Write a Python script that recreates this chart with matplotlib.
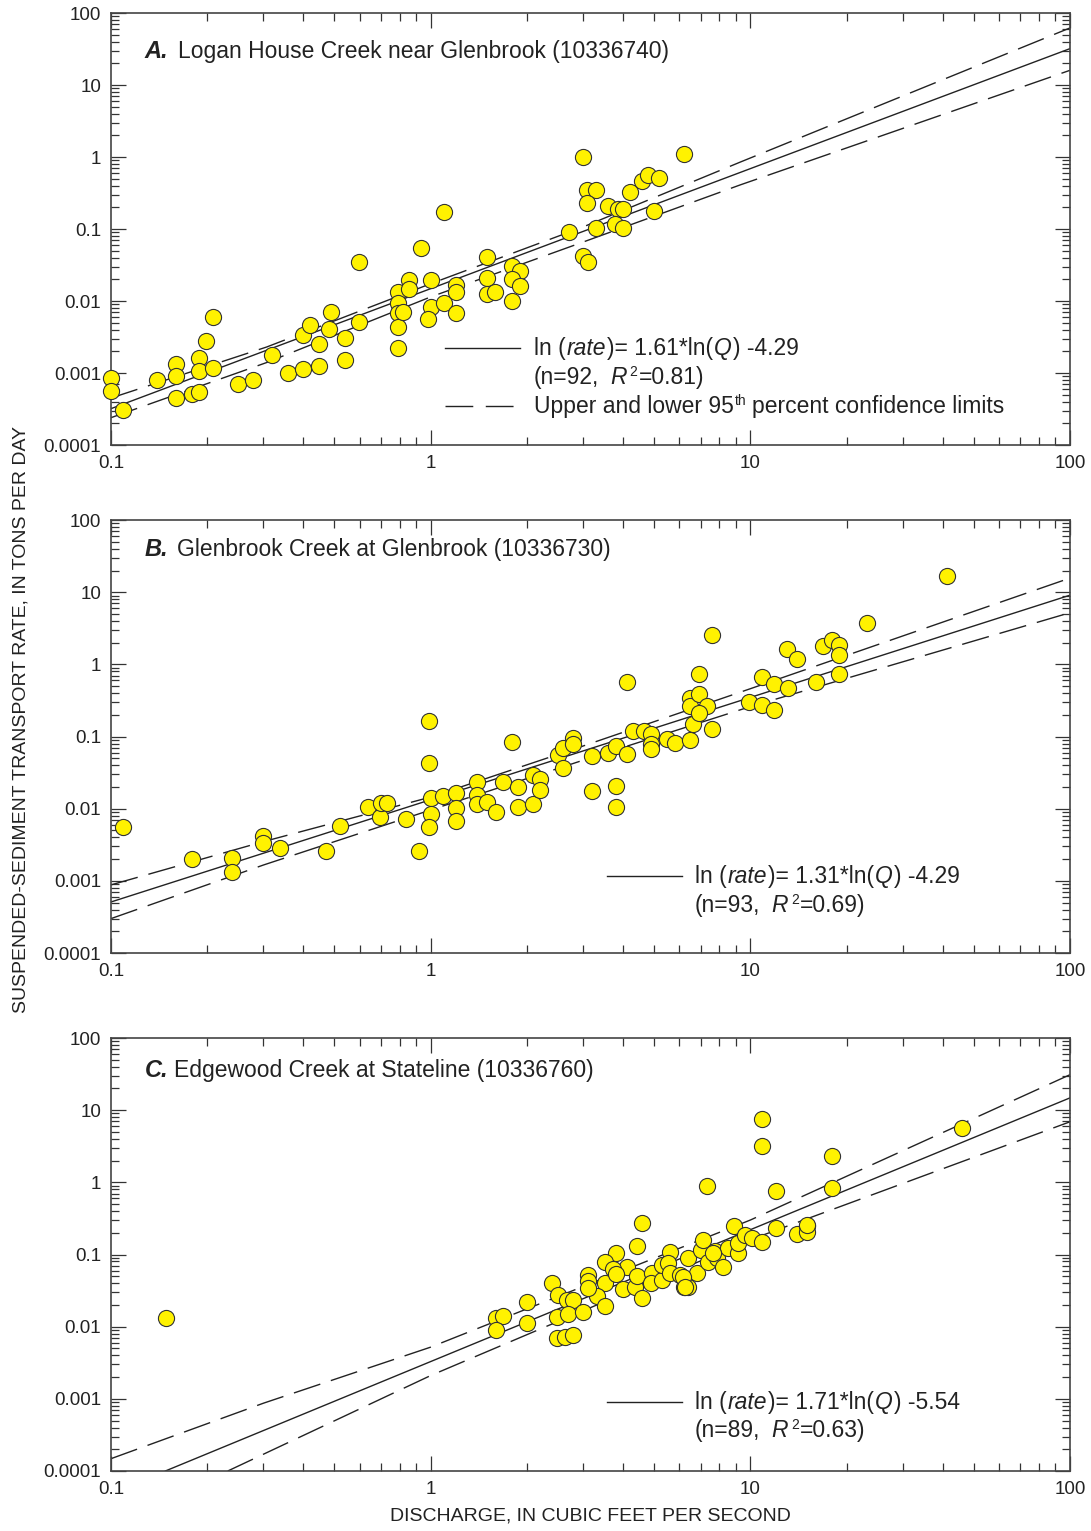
import numpy as np
import matplotlib.pyplot as plt
from matplotlib.ticker import LogLocator, NullFormatter, FixedLocator, FixedFormatter
from matplotlib.transforms import offset_copy

plt.rcParams['font.family'] = ['Liberation Sans', 'DejaVu Sans']

# ---- data ----
# A. Logan House Creek near Glenbrook
a_q = [0.1, 0.1, 0.109, 0.139, 0.16, 0.16, 0.16, 0.179, 0.188, 0.188, 0.188, 0.198, 0.208, 0.208,
       0.249, 0.278, 0.318, 0.357, 0.398, 0.398, 0.42, 0.447, 0.447, 0.48, 0.488, 0.54, 0.54,
       0.596, 0.596, 0.79, 0.79, 0.79, 0.79, 0.79, 0.82, 0.855, 0.855, 0.93, 1.0, 1.0, 0.98,
       1.1, 1.1, 1.2, 1.2, 1.2, 1.5, 1.5, 1.5, 1.59, 1.8, 1.9, 1.8, 1.9, 1.8,
       2.7, 3.0, 3.0, 3.1, 3.08, 3.3, 3.08, 3.3, 3.6, 3.85, 4.0, 3.77, 4.0, 4.2, 4.6, 4.8,
       5.2, 5.0, 6.2]
a_rate = [0.00085, 0.00056, 0.00031, 0.00079, 0.00133, 0.00091, 0.00045, 0.00051, 0.0016, 0.00107,
          0.00055, 0.0028, 0.006, 0.00118, 0.00071, 0.00079, 0.0018, 0.001, 0.00114, 0.0034,
          0.0047, 0.0025, 0.00125, 0.0041, 0.0071, 0.0031, 0.0015, 0.0051, 0.035, 0.0133,
          0.0093, 0.0068, 0.0043, 0.0022, 0.0071, 0.0196, 0.0147, 0.055, 0.0196, 0.0083, 0.0056,
          0.174, 0.0093, 0.0166, 0.0133, 0.0068, 0.041, 0.021, 0.0126, 0.0133, 0.031, 0.026,
          0.02, 0.016, 0.01, 0.091, 1.0, 0.042, 0.035, 0.35, 0.35, 0.23, 0.103, 0.21, 0.19,
          0.19, 0.117, 0.103, 0.33, 0.46, 0.56, 0.51, 0.18, 1.1]
a_fit_q = [0.1, 100]
a_fit_rate = [0.00032, 32]
a_ci_q = [0.1, 0.307, 1.0, 3.0, 9.3, 100]
a_ci_upper = [0.00045, 0.0023, 0.0174, 0.107, 0.85, 62]
a_ci_lower = [0.00024, 0.0014, 0.0114, 0.066, 0.41, 16]

# B. Glenbrook Creek at Glenbrook
b_q = [0.109, 0.179, 0.239, 0.239, 0.299, 0.299, 0.338, 0.471, 0.52, 0.637, 0.694, 0.70, 0.73,
       0.837, 0.919, 0.99, 0.99, 1.0, 1.0, 0.99, 1.09, 1.2, 1.2, 1.2, 1.4, 1.4, 1.4, 1.5, 1.6,
       1.69, 1.8, 1.87, 1.87, 2.09, 2.09, 2.2, 2.2, 2.5, 2.59, 2.59, 2.79, 2.79, 3.2, 3.2, 3.59,
       3.8, 4.11, 3.8, 3.8, 4.11, 4.29, 4.65, 4.89, 4.89, 4.89, 5.48, 5.81, 6.47, 6.61, 6.47,
       6.47, 6.91, 7.31, 6.91, 6.91, 7.58, 7.58, 9.91, 10.9, 10.9, 11.9, 11.9, 13.0, 14.0, 16.9,
       18.0, 18.9, 18.9, 18.9, 16.0, 13.1, 23.2, 41.2]
b_rate = [0.0056, 0.002, 0.00207, 0.00133, 0.0042, 0.0033, 0.00285, 0.0026, 0.0058, 0.0105,
          0.0077, 0.012, 0.012, 0.0072, 0.0026, 0.164, 0.043, 0.014, 0.0084, 0.0056, 0.015,
          0.0165, 0.0102, 0.0067, 0.0234, 0.0155, 0.0116, 0.0124, 0.009, 0.0234, 0.084, 0.02,
          0.0105, 0.029, 0.0116, 0.0258, 0.018, 0.055, 0.037, 0.069, 0.095, 0.079, 0.054, 0.0176,
          0.059, 0.074, 0.057, 0.0206, 0.0105, 0.57, 0.119, 0.119, 0.108, 0.079, 0.067, 0.092,
          0.081, 0.09, 0.149, 0.34, 0.265, 0.39, 0.265, 0.21, 0.73, 2.55, 0.127, 0.30, 0.67,
          0.27, 0.53, 0.233, 1.63, 1.19, 1.8, 2.17, 1.85, 1.35, 0.73, 0.57, 0.47, 3.74, 16.7]
b_fit_q = [0.1, 100]
b_fit_rate = [0.00051, 9.1]
b_ci_q = [0.1, 0.3, 1.0, 3.0, 10, 100]
b_ci_upper = [0.00088, 0.0035, 0.0145, 0.074, 0.46, 15.7]
b_ci_lower = [0.0003, 0.00166, 0.0096, 0.047, 0.26, 5.2]

# C. Edgewood Creek at Stateline
c_q = [0.149, 1.6, 1.69, 1.6, 2.0, 2.0, 4.58, 4.42, 3.8, 3.51, 5.61, 4.11, 3.72, 3.1, 3.1, 3.51,
       2.39, 2.5, 2.67, 2.79, 2.48, 2.69, 2.99, 3.31, 3.51, 3.1, 3.8, 3.99, 4.35, 4.58, 4.42,
       4.92, 4.89, 5.29, 5.29, 5.52, 5.61, 6.03, 6.2, 6.38, 6.38, 6.81, 7.0, 7.11, 7.36, 7.75,
       7.86, 8.21, 8.51, 8.89, 9.15, 9.15, 9.62, 10.1, 10.9, 12.0, 14.0, 15.1, 15.1, 2.48, 2.63,
       2.79, 10.9, 10.9, 45.9, 18.0, 18.0, 7.31, 12.0, 15.0, 6.15, 6.24, 7.64]
c_rate = [0.0132, 0.0132, 0.0141, 0.009, 0.022, 0.0112, 0.27, 0.131, 0.105, 0.079, 0.108, 0.067,
          0.063, 0.052, 0.043, 0.04, 0.04, 0.0275, 0.0234, 0.0234, 0.0136, 0.015, 0.016, 0.0266,
          0.0194, 0.034, 0.054, 0.033, 0.035, 0.025, 0.05, 0.055, 0.04, 0.044, 0.072, 0.076,
          0.055, 0.052, 0.035, 0.035, 0.09, 0.055, 0.115, 0.159, 0.079, 0.112, 0.09, 0.067,
          0.123, 0.248, 0.105, 0.145, 0.186, 0.169, 0.149, 0.233, 0.192, 0.248, 0.205, 0.007,
          0.0072, 0.0077, 7.55, 3.19, 5.66, 2.32, 0.835, 0.89, 0.76, 0.256, 0.049, 0.035, 0.105]
c_fit_q = [0.148, 100]
c_fit_rate = [0.0001, 14.8]
c_up_q = [0.1, 0.3, 1.0, 10, 100]
c_ci_upper = [0.000148, 0.00087, 0.0052, 0.30, 31]
c_lo_q = [0.232, 1.0, 10, 100]
c_ci_lower = [0.0001, 0.0021, 0.16, 6.9]

yticks = [0.0001, 0.001, 0.01, 0.1, 1, 10, 100]
ytick_labels = ['0.0001', '0.001', '0.01', '0.1', '1', '10', '100']
xticks = [0.1, 1, 10, 100]
xtick_labels = ['0.1', '1', '10', '100']

fig = plt.figure(figsize=(10.91, 15.31), dpi=100)
renderer = fig.canvas.get_renderer()

line_col = '#222222'
txt_col = '#222222'
dash = (0, (20, 8))
EQ_SIZE = 16.5


def setup_axes(ax):
    ax.set_xscale('log')
    ax.set_yscale('log')
    ax.set_xlim(0.1, 100)
    ax.set_ylim(0.0001, 100)
    ax.xaxis.set_major_locator(FixedLocator(xticks))
    ax.xaxis.set_major_formatter(FixedFormatter(xtick_labels))
    ax.yaxis.set_major_locator(FixedLocator(yticks))
    ax.yaxis.set_major_formatter(FixedFormatter(ytick_labels))
    ax.xaxis.set_minor_locator(LogLocator(base=10, subs=np.arange(2, 10)))
    ax.yaxis.set_minor_locator(LogLocator(base=10, subs=np.arange(2, 10)))
    ax.xaxis.set_minor_formatter(NullFormatter())
    ax.yaxis.set_minor_formatter(NullFormatter())
    ax.tick_params(which='both', direction='in', top=True, right=True,
                   colors='#333333', labelcolor=txt_col, labelsize=13.5)
    ax.tick_params(which='major', length=11, width=0.9, pad=7)
    ax.tick_params(which='minor', length=6, width=0.9)
    for sp in ax.spines.values():
        sp.set_linewidth(1.2)
        sp.set_color('#444444')


def rich_text(ax, x, y, pieces):
    # pieces: (text, style, size, rise_px, gap_px before)
    cum = 0.0
    for s, style, size, rise, gap in pieces:
        cum += gap
        tr = offset_copy(ax.transAxes, fig=fig, x=cum, y=rise, units='dots')
        t = ax.text(x, y, s, transform=tr, fontsize=size, style=style,
                    va='baseline', ha='left', color=txt_col)
        cum += t.get_window_extent(renderer).width


def eq_pieces(slope, icpt):
    return [('ln (', 'normal', EQ_SIZE, 0, 0),
            ('rate', 'italic', EQ_SIZE, 0, 1),
            (')= ' + slope + '*ln(', 'normal', EQ_SIZE, 0, 1),
            ('Q', 'italic', EQ_SIZE, 0, 1),
            (') ' + icpt, 'normal', EQ_SIZE, 0, 1)]


def stat_pieces(n, r2):
    return [('(n=' + n + ',', 'normal', EQ_SIZE, 0, 0),
            ('R', 'italic', EQ_SIZE, 0, 11),
            ('2', 'normal', 10, 8, 3),
            ('=' + r2 + ')', 'normal', EQ_SIZE, 0, 1)]


def panel(rect, q, rate, fq, frate, uq, up, lq, lo, letter, title, tx, ty):
    ax = fig.add_axes(rect)
    setup_axes(ax)
    ax.plot(uq, up, color=line_col, lw=1.0, linestyle=dash, zorder=2)
    ax.plot(lq, lo, color=line_col, lw=1.0, linestyle=dash, zorder=2)
    ax.plot(fq, frate, color=line_col, lw=1.0, zorder=2)
    ax.scatter(q, rate, s=135, facecolor='#FFF200', edgecolor='#333333',
               linewidth=0.8, zorder=3, clip_on=False)
    ax.text(0.035, ty, letter, transform=ax.transAxes, fontsize=17,
            fontweight='bold', style='italic', va='center', color=txt_col)
    ax.text(tx, ty, title, transform=ax.transAxes, fontsize=16.5,
            va='center', color=txt_col)
    return ax


ax_a = panel([0.1017, 0.7093, 0.879, 0.2822], a_q, a_rate, a_fit_q, a_fit_rate,
             a_ci_q, a_ci_upper, a_ci_q, a_ci_lower,
             'A.', 'Logan House Creek near Glenbrook (10336740)', 0.0699, 0.912)
ax_b = panel([0.1017, 0.3775, 0.879, 0.2828], b_q, b_rate, b_fit_q, b_fit_rate,
             b_ci_q, b_ci_upper, b_ci_q, b_ci_lower,
             'B.', 'Glenbrook Creek at Glenbrook (10336730)', 0.0688, 0.931)
ax_c = panel([0.1017, 0.0392, 0.879, 0.2828], c_q, c_rate, c_fit_q, c_fit_rate,
             c_up_q, c_ci_upper, c_lo_q, c_ci_lower,
             'C.', 'Edgewood Creek at Stateline (10336760)', 0.0657, 0.926)

# equation keys
ax_a.plot([0.348, 0.4265], [0.2245, 0.2245], transform=ax_a.transAxes, color=line_col, lw=1.0)
ax_a.plot([0.348, 0.4265], [0.0903, 0.0903], transform=ax_a.transAxes, color=line_col, lw=1.0,
          linestyle=(0, (20, 9)))
rich_text(ax_a, 0.441, 0.2245 - 0.016, eq_pieces('1.61', '-4.29'))
rich_text(ax_a, 0.441, 0.157 - 0.016, stat_pieces('92', '0.81'))
rich_text(ax_a, 0.441, 0.0903 - 0.016,
          [('Upper and lower 95', 'normal', EQ_SIZE, 0, 0),
           ('th', 'normal', 10, 8, 1),
           ('percent confidence limits', 'normal', EQ_SIZE, 0, 6)])

for ax, sl, ic, n, r2, y1, y2 in [(ax_b, '1.31', '-4.29', '93', '0.69', 0.178, 0.111),
                                  (ax_c, '1.71', '-5.54', '89', '0.63', 0.159, 0.0947)]:
    ax.plot([0.517, 0.5954], [y1, y1], transform=ax.transAxes, color=line_col, lw=1.0)
    rich_text(ax, 0.609, y1 - 0.016, eq_pieces(sl, ic))
    rich_text(ax, 0.609, y2 - 0.016, stat_pieces(n, r2))

fig.text(0.019, 0.53, 'SUSPENDED-SEDIMENT TRANSPORT RATE, IN TONS PER DAY', rotation=90,
         ha='center', va='center', fontsize=14, color=txt_col)
fig.text(0.5412, 0.0095, 'DISCHARGE, IN CUBIC FEET PER SECOND', ha='center', va='center',
         fontsize=14, color=txt_col)

fig.savefig('out.png', dpi=100)
